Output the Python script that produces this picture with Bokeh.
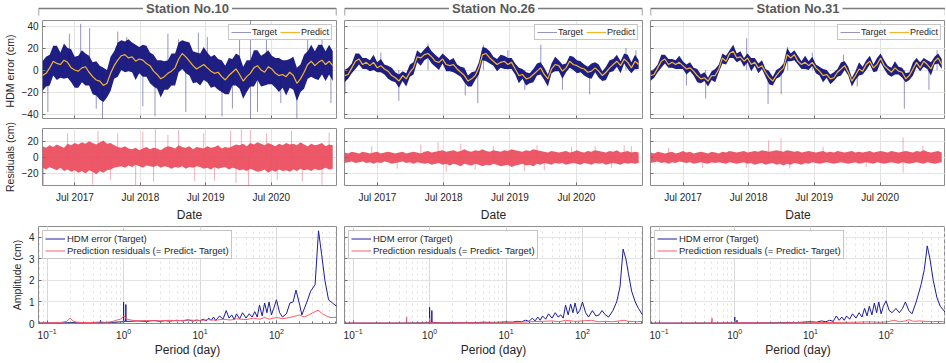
import numpy as np
from datetime import datetime, timedelta
from bokeh.plotting import figure
from bokeh.layouts import column, row
from bokeh.models import Range1d, Legend, LegendItem, Label, CustomJSTickFormatter, DatetimeTickFormatter
from bokeh.embed import file_html
from bokeh.resources import INLINE

FONT = "Liberation Sans"

# ------------------------------------------------------------------ data
STATIONS = ["Station No.10", "Station No.26", "Station No.31"]
T0 = datetime(2017, 1, 1)
T1 = datetime(2021, 6, 30)
STEP = 20  # days between the values
DATE_TICKS = [datetime(2017, 7, 1), datetime(2018, 7, 1), datetime(2019, 7, 1), datetime(2020, 7, 1)]
DATE_LABELS = ["Jul 2017", "Jul 2018", "Jul 2019", "Jul 2020"]
HDM_TICKS = [-40, -20, 0, 20, 40]
RES_TICKS = [-20, 0, 20]
AMP_TICKS = [0, 1, 2, 3, 4]

# Station No.10 (HDM error, cm)
pred10 = [-5, -3, 2, 8, 6, 5, 9, 7, 2, 0, -1, 2, 3, -2, -6, -9, -10, -14, -12, -3,
          4, 9, 13, 14, 11, 12, 8, 10, 9, 6, 4, -1, -4, -8, -6, -3, -1, 2, 10, 15,
          12, 8, 4, 1, 3, 5, 2, -1, -3, -2, -6, -9, -5, -2, 1, -4, -10, -6, -3, 2,
          4, 0, -2, 3, 1, -3, -5, -4, -6, -2, -5, -12, -8, -2, 5, 8, 4, 7, 9, 5, 8, 4]
hi10 = [8, 12, 14, 22, 22, 16, 24, 20, 19, 12, 13, 18, 15, 13, 7, 8, 4, 2, 0, 12,
        17, 25, 27, 26, 28, 25, 23, 21, 23, 22, 16, 14, 9, 9, 8, 9, 15, 15, 25, 27,
        26, 25, 17, 16, 15, 21, 16, 12, 14, 10, 9, 4, 11, 10, 15, 13, 3, 9, 9, 18,
        18, 13, 15, 18, 13, 11, 11, 9, 9, 10, 12, 2, 5, 14, 17, 23, 17, 23, 23, 17, 23, 17]
lo10 = [-19, -15, -14, -5, -9, -7, -8, -7, -11, -16, -16, -11, -14, -14, -22, -23, -27, -29, -25, -19,
        -8, -6, 0, -2, -1, -2, -9, -3, -6, -6, -12, -15, -17, -25, -18, -18, -14, -14, -2, 1,
        -3, -5, -12, -11, -14, -9, -11, -16, -15, -18, -20, -22, -22, -14, -14, -17, -26, -20, -15, -15,
        -9, -15, -14, -13, -13, -16, -20, -16, -23, -16, -18, -28, -20, -17, -8, -6, -8, -9, -4, -10, -4, -10]
spk10_day = [30, 150, 213, 263, 300, 335, 420, 470, 560, 628, 700, 760, 800, 870, 920,
             1002, 1060, 1100, 1161, 1161, 1200, 1250, 1330, 1420, 1480, 1560, 1610]
spk10_val = [-38, 33, 42, 38, -35, -44, 35, 30, -33, -42, 33, 28, -38, 34, 30,
             -42, -35, 30, 45, -45, -38, 32, -30, -44, 30, 33, -30]

# Station No.26
pred26 = [-5, -4, 2, 8, 10, 5, 7, 4, 7, 2, 4, 1, -1, -5, -7, -10, -5, -8, -2, 2,
          12, 11, 14, 15, 12, 8, 7, 10, 5, 4, 5, 1, -2, -5, -10, -8, -5, 2, 14, 15,
          11, 8, 5, 7, 8, 5, 7, 1, -5, -4, -8, -7, -4, -1, 2, -4, -8, 1, 5, 4,
          -1, 2, 8, 5, 4, 2, 1, -2, -1, 2, -1, -5, -2, 2, 5, 8, 4, 10, 7, 2, 8, 5]
hi26 = [0, 2, 6, 15, 15, 11, 11, 9, 14, 7, 10, 5, 4, 2, -2, -4, -1, -3, 5, 7,
        18, 15, 19, 22, 17, 14, 11, 15, 12, 9, 11, 5, 3, 2, -5, -2, -1, 7, 21, 20,
        17, 12, 10, 14, 13, 11, 11, 6, 2, 1, -2, -3, 1, 6, 7, 2, -4, 6, 12, 9,
        5, 6, 13, 12, 9, 8, 5, 3, 6, 7, 5, -1, 3, 9, 10, 14, 8, 15, 14, 7, 14, 9]
lo26 = [-11, -8, -3, 1, 5, 1, 1, -1, 0, -2, -2, -4, -8, -10, -11, -16, -10, -15, -6, -4,
        7, 4, 9, 11, 6, 3, 0, 6, -1, -1, -2, -4, -6, -11, -15, -15, -9, -4, 9, 8,
        6, 4, -1, 2, 1, 1, 1, -4, -12, -8, -14, -12, -11, -5, -4, -9, -15, -3, -1, -1,
        -8, -2, 2, 0, -3, -2, -5, -7, -8, -2, -7, -10, -9, -2, -1, 3, -3, 6, 1, -3, 1, 1]
spk26_day = [3, 200, 299, 460, 665, 734, 765, 900, 993, 1081, 1200, 1350, 1550, 1605]
spk26_val = [-22, 16, -28, 24, -23, -30, 23, 18, -18, 23, -18, -22, 20, 18]

# Station No.31
pred31 = [-5, -4, 2, 8, 10, 5, 7, 5, 7, 4, 1, 2, -1, -5, -8, -7, -10, -5, -5, 1,
          11, 8, 15, 17, 11, 12, 8, 11, 5, 7, 2, 4, -2, -7, -10, -5, -1, 2, 14, 11,
          14, 8, 5, 7, 4, 7, 2, -1, -5, -4, -8, -7, -2, 1, 4, -2, -10, -5, 1, -1,
          5, 8, 2, 5, 11, 4, 1, -2, 2, -1, -2, -8, -5, 1, 7, 2, 8, 5, 1, 8, 11, 5]
hi31 = [-1, 1, 5, 14, 14, 10, 10, 9, 13, 8, 5, 7, 2, 1, -4, -2, -7, -1, 1, 5,
        15, 13, 18, 23, 15, 17, 11, 15, 11, 11, 6, 9, 1, -1, -6, 0, 2, 6, 20, 15,
        18, 13, 8, 13, 8, 12, 5, 3, 1, 0, -4, -2, 1, 7, 8, 3, -7, -1, 7, 3,
        9, 13, 5, 11, 15, 9, 4, 2, 8, 3, 2, -3, -2, 7, 11, 7, 11, 9, 7, 12, 15, 10]
lo31 = [-10, -7, -2, 2, 6, 2, 2, 1, 1, 1, -4, -1, -5, -11, -12, -10, -15, -9, -11, -2,
        6, 5, 11, 11, 7, 9, 3, 7, -1, 4, -3, 1, -6, -13, -14, -8, -6, -2, 8, 8,
        9, 5, 1, 1, 0, 4, -3, -5, -11, -7, -13, -10, -6, -5, 0, -5, -15, -9, -5, -4,
        0, 5, -2, -1, 7, 1, -4, -6, -4, -4, -7, -11, -9, -5, 3, -1, 3, 1, -5, 5, 6, 1]
spk31_day = [200, 307, 535, 654, 727, 763, 900, 1074, 1150, 1412, 1549, 1594]
spk31_val = [-14, -26, 29, -31, -22, 21, 16, 14, -15, -35, -18, 18]

# Residuals (Predict - Target, cm): upper / lower edge of the dense band
res10_hi = [14, 12, 15, 13, 16, 14, 12, 17, 15, 18, 16, 19, 17, 20, 18, 16, 19, 21, 17, 18,
            15, 13, 12, 14, 11, 10, 12, 9, 11, 13, 10, 12, 11, 9, 12, 14, 13, 11, 15, 13,
            12, 14, 10, 13, 12, 11, 14, 12, 13, 15, 11, 13, 12, 14, 16, 15, 17, 14, 18, 16,
            19, 17, 15, 18, 16, 14, 17, 15, 18, 16, 17, 15, 19, 16, 14, 17, 15, 16, 18, 14, 16, 15]
res10_lo = [-13, -15, -12, -14, -16, -13, -17, -15, -18, -16, -19, -17, -20, -16, -18, -21, -17, -19, -16, -15,
            -13, -12, -11, -13, -10, -12, -9, -11, -13, -10, -11, -12, -10, -13, -11, -12, -14, -12, -13, -11,
            -14, -12, -13, -11, -12, -14, -13, -15, -12, -14, -13, -12, -15, -13, -14, -16, -15, -17, -14, -16,
            -18, -17, -15, -19, -16, -18, -15, -17, -16, -18, -15, -17, -14, -16, -15, -17, -14, -16, -15, -13, -15, -14]
rspk10_day = [5, 140, 280, 310, 380, 420, 520, 560, 620, 630, 700, 760, 850, 900, 960,
              1050, 1080, 1110, 1150, 1160, 1250, 1310, 1390, 1450, 1560, 1600]
rspk10_val = [-35, 30, -34, 33, -28, 30, -35, 32, -30, 35, 28, 34, -30, 30, -29,
              33, -32, 35, -35, 34, 30, -28, 33, -30, -34, 31]

res26_hi = [6, 5, 7, 6, 5, 7, 6, 5, 6, 7, 5, 6, 7, 6, 5, 6, 7, 5, 6, 7,
            6, 5, 7, 8, 6, 7, 8, 9, 7, 8, 9, 7, 8, 10, 8, 7, 9, 8, 10, 8,
            7, 9, 8, 7, 9, 8, 10, 9, 8, 7, 9, 8, 10, 9, 8, 7, 6, 8, 7, 6,
            7, 8, 6, 7, 9, 7, 6, 8, 7, 9, 8, 7, 6, 8, 7, 9, 6, 7, 8, 6, 7, 6]
res26_lo = [-7, -6, -5, -7, -6, -5, -7, -6, -8, -6, -7, -5, -6, -8, -7, -6, -5, -7, -6, -8,
            -6, -7, -8, -7, -9, -8, -7, -9, -8, -10, -8, -9, -11, -8, -9, -10, -8, -9, -11, -9,
            -10, -8, -9, -11, -10, -9, -12, -10, -9, -8, -10, -9, -11, -8, -9, -7, -8, -9, -7, -8,
            -7, -9, -8, -7, -8, -9, -7, -8, -9, -7, -8, -7, -9, -8, -7, -8, -9, -7, -8, -7, -8, -7]
rspk26_day = [150, 290, 420, 515, 560, 640, 720, 820, 990, 1060, 1100, 1250, 1380, 1470, 1540, 1580]
rspk26_val = [14, -14, 16, 19, -18, 17, -15, 14, -17, 15, -16, 13, 14, -13, 15, 14]

res31_hi = [6, 5, 7, 6, 5, 6, 7, 5, 6, 8, 6, 7, 5, 6, 7, 6, 5, 7, 6, 5,
            7, 6, 8, 7, 6, 7, 8, 6, 7, 8, 7, 9, 8, 7, 8, 9, 8, 7, 9, 8,
            7, 8, 6, 7, 8, 7, 6, 7, 8, 6, 7, 6, 8, 7, 6, 7, 8, 6, 7, 6,
            7, 8, 6, 7, 8, 7, 6, 8, 7, 6, 7, 8, 7, 6, 8, 7, 9, 7, 6, 7, 8, 6]
res31_lo = [-7, -6, -5, -7, -6, -8, -6, -7, -5, -6, -7, -6, -8, -7, -6, -7, -8, -6, -7, -6,
            -7, -8, -6, -7, -8, -7, -6, -8, -7, -9, -8, -7, -9, -8, -7, -9, -8, -10, -8, -9,
            -7, -8, -9, -7, -8, -6, -7, -8, -7, -6, -7, -8, -7, -6, -7, -8, -7, -6, -8, -7,
            -6, -7, -8, -6, -7, -8, -7, -6, -7, -8, -6, -7, -8, -7, -6, -7, -8, -6, -7, -8, -7, -6]
rspk31_day = [100, 290, 533, 657, 726, 775, 960, 1200, 1405, 1405, 1515]
rspk31_val = [12, -13, -13, 21, 24, -14, 13, -12, 25, -19, 14]

# Amplitude spectra (period in days, amplitude in cm)
per10_t = [0.077, 0.1, 0.15, 0.2, 0.3, 0.45, 0.498, 0.5, 0.502, 0.8, 0.95, 0.995, 1.0, 1.005, 1.065, 1.07, 1.075,
           1.2, 1.5, 2, 2.5, 3, 3.5, 4, 5, 6, 7, 8, 9, 10, 11, 12, 13, 14, 15, 16, 18, 20, 22, 24, 26, 28, 30,
           33, 36, 40, 44, 48, 52, 56, 60, 65, 70, 75, 80, 86, 92, 100, 110, 120, 135, 150, 165, 180, 200, 215,
           250, 280, 320, 355, 390, 430, 480, 540, 610]
amp10_t = [0.02, 0.03, 0.02, 0.04, 0.03, 0.04, 0.04, 0.15, 0.04, 0.06, 0.08, 0.08, 1.0, 0.1, 0.1, 0.88, 0.1,
           0.1, 0.12, 0.1, 0.14, 0.1, 0.13, 0.11, 0.15, 0.12, 0.17, 0.11, 0.16, 0.13, 0.2, 0.12, 0.25, 0.15, 0.3,
           0.14, 0.35, 0.2, 0.6, 0.25, 0.4, 0.18, 0.45, 0.22, 0.5, 0.25, 0.45, 0.3, 0.55, 0.3, 0.85, 0.35, 0.95,
           0.5, 1.0, 0.4, 0.7, 1.1, 0.5, 0.3, 0.45, 0.95, 1.0, 1.55, 0.9, 0.4, 1.0, 1.5, 1.8, 4.3, 3.2, 2.0, 1.1,
           0.95, 0.8]
per10_r = [0.077, 0.1, 0.15, 0.18, 0.2, 0.22, 0.25, 0.3, 0.4, 0.5, 0.6, 0.7, 0.8, 0.9, 0.95, 1.0, 1.05, 1.1,
           1.3, 1.6, 2, 3, 4, 5, 7, 10, 13, 16, 20, 25, 30, 40, 50, 60, 70, 80, 100, 120, 150, 180, 200, 230,
           260, 300, 350, 400, 450, 500, 610]
amp10_r = [0.02, 0.03, 0.05, 0.1, 0.25, 0.1, 0.06, 0.04, 0.05, 0.07, 0.05, 0.08, 0.15, 0.2, 0.25, 0.35, 0.3,
           0.2, 0.15, 0.12, 0.14, 0.12, 0.15, 0.13, 0.16, 0.14, 0.18, 0.15, 0.2, 0.16, 0.22, 0.18, 0.25, 0.2,
           0.28, 0.2, 0.28, 0.22, 0.28, 0.35, 0.4, 0.3, 0.38, 0.5, 0.62, 0.45, 0.35, 0.28, 0.28]

per26_t = [0.077, 0.1, 0.2, 0.4, 0.498, 0.5, 0.502, 0.9, 0.995, 1.0, 1.005, 1.065, 1.07, 1.075, 1.5, 2, 3, 4, 5,
           7, 10, 12, 14, 16, 18, 20, 22, 24, 26, 28, 30, 33, 36, 40, 44, 48, 52, 56, 60, 65, 70, 75, 80, 86, 92,
           100, 110, 120, 135, 150, 165, 180, 200, 220, 250, 280, 310, 340, 370, 400, 440, 490, 540, 610]
amp26_t = [0.01, 0.02, 0.02, 0.02, 0.02, 0.04, 0.02, 0.03, 0.05, 0.75, 0.05, 0.05, 0.6, 0.05, 0.03, 0.04, 0.05,
           0.04, 0.06, 0.05, 0.07, 0.06, 0.1, 0.08, 0.15, 0.1, 0.25, 0.12, 0.3, 0.15, 0.35, 0.2, 0.45, 0.25, 0.5,
           0.3, 0.4, 0.25, 0.85, 0.4, 0.9, 0.5, 0.95, 0.45, 0.6, 1.0, 0.5, 0.3, 0.6, 0.35, 0.4, 0.6, 0.4, 0.3,
           0.6, 1.0, 1.7, 3.45, 3.0, 2.3, 1.5, 1.0, 0.7, 0.4]
per26_r = [0.077, 0.1, 0.3, 0.495, 0.5, 0.505, 0.8, 0.99, 1.0, 1.01, 1.5, 3, 5, 10, 15, 20, 30, 40, 50, 60, 80,
           100, 130, 160, 200, 250, 300, 350, 400, 500, 610]
amp26_r = [0.01, 0.02, 0.02, 0.02, 0.3, 0.02, 0.02, 0.03, 0.25, 0.03, 0.03, 0.04, 0.03, 0.05, 0.06, 0.08, 0.1,
           0.12, 0.08, 0.15, 0.1, 0.12, 0.15, 0.08, 0.1, 0.08, 0.12, 0.15, 0.1, 0.08, 0.1]

per31_t = [0.077, 0.1, 0.3, 0.6, 0.995, 1.0, 1.005, 1.065, 1.07, 1.075, 2, 4, 7, 10, 12, 14, 16, 18, 20, 22, 24,
           26, 28, 30, 33, 36, 40, 44, 48, 52, 56, 60, 65, 70, 75, 80, 86, 92, 100, 110, 120, 135, 150, 165, 180,
           200, 220, 250, 290, 320, 350, 380, 420, 470, 520, 610]
amp31_t = [0.01, 0.02, 0.02, 0.02, 0.03, 0.3, 0.03, 0.03, 0.15, 0.03, 0.03, 0.04, 0.05, 0.08, 0.06, 0.12, 0.08,
           0.15, 0.1, 0.35, 0.15, 0.3, 0.15, 0.35, 0.2, 0.45, 0.25, 0.5, 0.3, 0.7, 0.35, 0.8, 0.4, 0.95, 0.5, 1.0,
           0.45, 0.8, 1.05, 0.6, 0.5, 0.7, 0.5, 0.7, 1.0, 0.6, 0.45, 1.0, 1.8, 2.5, 3.6, 3.0, 2.0, 1.2, 0.8, 0.5]
per31_r = [0.077, 0.1, 0.3, 0.495, 0.5, 0.505, 0.99, 1.0, 1.01, 2, 5, 10, 20, 40, 60, 80, 100, 130, 150, 180,
           200, 230, 280, 330, 400, 500, 610]
amp31_r = [0.01, 0.015, 0.02, 0.02, 0.25, 0.02, 0.03, 0.1, 0.03, 0.03, 0.03, 0.04, 0.05, 0.06, 0.08, 0.06, 0.07,
           0.15, 0.08, 0.12, 0.18, 0.1, 0.12, 0.1, 0.08, 0.1, 0.07]

SERIES = [
    dict(pred=pred10, hi=hi10, lo=lo10, sd=spk10_day, sv=spk10_val, rhi=res10_hi, rlo=res10_lo,
         rsd=rspk10_day, rsv=rspk10_val, pt=per10_t, at=amp10_t, pr=per10_r, ar=amp10_r),
    dict(pred=pred26, hi=hi26, lo=lo26, sd=spk26_day, sv=spk26_val, rhi=res26_hi, rlo=res26_lo,
         rsd=rspk26_day, rsv=rspk26_val, pt=per26_t, at=amp26_t, pr=per26_r, ar=amp26_r),
    dict(pred=pred31, hi=hi31, lo=lo31, sd=spk31_day, sv=spk31_val, rhi=res31_hi, rlo=res31_lo,
         rsd=rspk31_day, rsv=rspk31_val, pt=per31_t, at=amp31_t, pr=per31_r, ar=amp31_r),
]

# ------------------------------------------------------------------ style
NAVY = "#12127c"
GOLD = "#f5b52a"
RED = "#ec4a5c"
SPEC_BLUE = "#1c1c9a"
SPEC_RED = "#ff5a6a"
GRID = "#e3e3e3"
FRAME = "#8c8c8c"
TXT = "#262626"

COLS = [dict(bl=38, fw=298, br=4), dict(bl=4, fw=298, br=4), dict(bl=4, fw=295, br=0)]
BLANK = CustomJSTickFormatter(code="return ''")


def style(p, ylabels, xlabels, ylabel=None, xlabel=None):
    p.outline_line_color = FRAME
    p.outline_line_width = 1
    p.background_fill_color = "white"
    for ax in list(p.xaxis) + list(p.yaxis):
        ax.axis_line_color = None
        ax.major_tick_line_color = "#6e6e6e"
        ax.major_tick_in = 3
        ax.major_tick_out = 0
        ax.minor_tick_line_color = None
        ax.major_label_text_font = FONT
        ax.major_label_text_font_size = "10px"
        ax.major_label_text_color = TXT
        ax.major_label_standoff = 4
        ax.axis_label_text_font = FONT
        ax.axis_label_text_font_size = "10.5px"
        ax.axis_label_text_font_style = "normal"
        ax.axis_label_text_color = TXT
        ax.axis_label_standoff = 3
    p.xaxis.axis_label_text_font_size = "12px"
    if not ylabels:
        p.yaxis.formatter = BLANK
        p.yaxis.major_label_standoff = 0
    elif ylabel:
        p.yaxis.axis_label = ylabel
    if not xlabels:
        p.xaxis.formatter = BLANK
        p.xaxis.major_label_standoff = 0
    elif xlabel:
        p.xaxis.axis_label = xlabel
    p.xgrid.grid_line_color = GRID
    p.ygrid.grid_line_color = GRID


def header(c, title):
    w = c["fw"] + c["bl"] + c["br"]
    p = figure(width=w, height=17, x_range=Range1d(0, 1), y_range=Range1d(0, 1),
               x_axis_type=None, y_axis_type=None, output_backend="svg", toolbar_location=None,
               min_border_left=c["bl"], min_border_right=c["br"], min_border_top=0, min_border_bottom=0)
    p.outline_line_color = None
    p.grid.visible = False
    p.multi_line(xs=[[0, 0, 1, 1]], ys=[[0.12, 0.53, 0.53, 0.12]], line_color="#7a7a7a", line_width=1.4)
    p.add_layout(Label(x=0.5, y=0.53, text=title, text_align="center", text_baseline="middle",
                       text_font=FONT, text_font_size="13px", text_font_style="bold", text_color="#595959",
                       background_fill_color="white", background_fill_alpha=1.0, padding=3))
    return p


dates = [T0 + timedelta(days=STEP * i) for i in range(len(pred10))]
tick_ms = [(d - datetime(1970, 1, 1)).total_seconds() * 1000 for d in DATE_TICKS]

headers, hdm_figs, res_figs, amp_figs = [], [], [], []
for k, (c, s) in enumerate(zip(COLS, SERIES)):
    w = c["fw"] + c["bl"] + c["br"]
    first = k == 0
    headers.append(header(c, STATIONS[k]))

    # ---- HDM error
    p = figure(width=w, height=103, x_axis_type="datetime", x_range=Range1d(T0, T1), y_range=Range1d(-44, 45),
               output_backend="svg", toolbar_location=None,
               min_border_left=c["bl"], min_border_right=c["br"], min_border_top=3, min_border_bottom=2)
    style(p, first, False, ylabel="HDM error  (cm)")
    p.xaxis.ticker = tick_ms
    p.yaxis.ticker = HDM_TICKS
    sdates = [T0 + timedelta(days=d) for d in s["sd"]]
    rs = p.segment(x0=sdates, y0=[0] * len(sdates), x1=sdates, y1=s["sv"],
                   line_color=NAVY, line_alpha=0.45, line_width=1)
    p.varea(x=dates, y1=s["lo"], y2=s["hi"], fill_color=NAVY, fill_alpha=0.95)
    rp = p.line(dates, s["pred"], line_color=GOLD, line_width=1.2)
    leg = Legend(items=[LegendItem(label="Target", renderers=[rs]), LegendItem(label="Predict", renderers=[rp])],
                 orientation="horizontal", location="top_right", label_text_font=FONT,
                 label_text_font_size="9px", label_text_color=TXT, glyph_width=20, glyph_height=8,
                 label_height=8, label_standoff=1, spacing=3, padding=2, margin=4,
                 border_line_color="#8c8c8c", border_line_width=1, background_fill_alpha=1.0)
    p.add_layout(leg)
    hdm_figs.append(p)

    # ---- residuals
    p = figure(width=w, height=104, x_axis_type="datetime", x_range=Range1d(T0, T1), y_range=Range1d(-35, 36),
               output_backend="svg", toolbar_location=None,
               min_border_left=c["bl"], min_border_right=c["br"], min_border_top=8, min_border_bottom=32)
    style(p, first, True, ylabel="Residuals (cm)", xlabel="Date")
    p.xaxis.ticker = tick_ms
    p.xaxis.major_label_standoff = 6
    p.xaxis.axis_label_standoff = 2
    p.xaxis.formatter = DatetimeTickFormatter(days="%b %Y", months="%b %Y", years="%b %Y")
    p.xaxis.major_label_overrides = {t: lab for t, lab in zip(tick_ms, DATE_LABELS)}
    p.yaxis.ticker = RES_TICKS
    rdates = [T0 + timedelta(days=d) for d in s["rsd"]]
    p.segment(x0=rdates, y0=[0] * len(rdates), x1=rdates, y1=s["rsv"], line_color=RED, line_alpha=0.45, line_width=1)
    p.varea(x=dates, y1=s["rlo"], y2=s["rhi"], fill_color=RED, fill_alpha=0.92)
    res_figs.append(p)

    # ---- amplitude spectrum
    p = figure(width=w, height=138, x_axis_type="log", x_range=Range1d(0.077, 610), y_range=Range1d(0, 4.5),
               output_backend="svg", toolbar_location=None,
               min_border_left=c["bl"], min_border_right=c["br"], min_border_top=2, min_border_bottom=39)
    style(p, first, True, ylabel="Amplitude (cm)", xlabel="Period (day)")
    p.xaxis.axis_label_standoff = 1
    p.yaxis.ticker = AMP_TICKS
    p.xaxis.minor_tick_line_color = "#6e6e6e"
    p.xaxis.minor_tick_in = 2
    p.xaxis.minor_tick_out = 0
    p.xgrid.grid_line_color = "#d9d9d9"
    p.xgrid.minor_grid_line_color = "#e0e0e0"
    p.xgrid.minor_grid_line_dash = "dotted"
    rt = p.line(s["pt"], s["at"], line_color=SPEC_BLUE, line_width=1)
    rr = p.line(s["pr"], s["ar"], line_color=SPEC_RED, line_width=1)
    leg = Legend(items=[LegendItem(label="HDM error (Target)", renderers=[rt]),
                        LegendItem(label="Prediction residuals (= Predict- Target)", renderers=[rr])],
                 location="top_left", label_text_font=FONT, label_text_font_size="9.5px", label_text_color=TXT,
                 glyph_width=20, glyph_height=9, label_height=9, label_standoff=2, spacing=1, padding=2,
                 margin=4, border_line_color="#8c8c8c", background_fill_alpha=1.0)
    p.add_layout(leg)
    amp_figs.append(p)

layout = column(row(*headers), row(*hdm_figs), row(*res_figs), row(*amp_figs))
open("out.html", "w").write(file_html(layout, INLINE))
